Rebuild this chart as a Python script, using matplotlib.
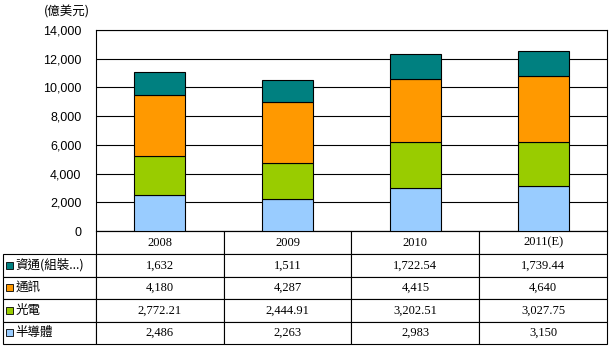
import numpy as np
import matplotlib.pyplot as plt
from matplotlib.table import Table
from matplotlib.patches import Rectangle
from matplotlib.font_manager import FontProperties

years = ['2008', '2009', '2010', '2011(E)']
semi = [2486, 2263, 2983, 3150]
opto = [2772.21, 2444.91, 3202.51, 3027.75]
comm = [4180, 4287, 4415, 4640]
info = [1632, 1511, 1722.54, 1739.44]

# table order (top -> bottom); bars are stacked in the reverse order
names = ['資通(組裝...)', '通訊', '光電', '半導體']
series = [info, comm, opto, semi]
colors = ['#008080', '#FF9900', '#99CC00', '#99CCFF']

cjk = ['Noto Sans CJK TC', 'DejaVu Sans']

W, H = 611, 347
left, right, top, bottom = 96, 607, 30, 231

fig = plt.figure(figsize=(W / 100, H / 100), dpi=100)
ax = fig.add_axes([left / W, 1 - bottom / H, (right - left) / W, (bottom - top) / H])


def ax_x(px):
    return (px - left) / (right - left)


def ax_y(py):
    return (bottom - py) / (bottom - top)


x = np.arange(len(years))
base = np.zeros(len(years))
for vals, c in zip(series[::-1], colors[::-1]):
    ax.bar(x, vals, 0.4, bottom=base, color=c, edgecolor='black', linewidth=0.8, zorder=3)
    base += np.array(vals)

ax.set_xlim(-0.5, len(years) - 0.5)
ax.set_ylim(0, 14000)
ax.set_yticks(range(0, 14001, 2000))
ax.yaxis.set_major_formatter('{x:,.0f}')
ax.set_xticks([])
ax.tick_params(axis='y', length=0, pad=10.5, labelsize=9)
for t in ax.get_yticklabels():
    t.set_fontfamily('Liberation Sans')
ax.yaxis.grid(True, color='black', linewidth=0.8, zorder=0)
for s in ax.spines.values():
    s.set_linewidth(0.8)

fig.text(67 / W, 1 - 12 / H, '(億美元)', family=cjk, fontsize=9, ha='center', va='center')

# data table under the chart, cell sizes in axes fractions
tb_top, tb_bot, tb_left = bottom, 344, 3
head_px = 23
row_px = (tb_bot - tb_top - head_px) / len(names)
lab_w = ax_x(left) - ax_x(tb_left)
col_w = 1 / len(years)
head_h = head_px / (bottom - top)
row_h = row_px / (bottom - top)
tb = Table(ax, bbox=[0, ax_y(tb_bot), 1, ax_y(tb_top) - ax_y(tb_bot)])
tb.auto_set_font_size(False)


def fmt(v):
    return f'{v:,.0f}' if float(v).is_integer() else f'{v:,.2f}'


num_fp = FontProperties(family='Liberation Serif', size=9)
cjk_fp = FontProperties(family=cjk, size=9)
for j, yr in enumerate(years):
    c = tb.add_cell(0, j, col_w, head_h, text=yr, loc='center', fontproperties=num_fp)
    c.set_linewidth(0.8)
for i, (name, vals) in enumerate(zip(names, series)):
    c = tb.add_cell(i + 1, -1, lab_w, row_h, text=name, loc='left', fontproperties=cjk_fp)
    c.PAD = 0.135
    c.set_linewidth(0.8)
    for j, v in enumerate(vals):
        c = tb.add_cell(i + 1, j, col_w, row_h, text=fmt(v), loc='center', fontproperties=num_fp)
        c.set_linewidth(0.8)
ax.add_table(tb)

# legend keys inside the row label cells
for i, c in enumerate(colors):
    cy = tb_top + head_px + row_px * (i + 0.5)
    ax.add_patch(Rectangle((ax_x(5.5), ax_y(cy + 3.5)), ax_x(12.5) - ax_x(5.5), ax_y(cy - 3.5) - ax_y(cy + 3.5),
                           transform=ax.transAxes, facecolor=c, edgecolor='black', linewidth=0.6,
                           clip_on=False, zorder=5))

fig.savefig('out.png', dpi=100)
